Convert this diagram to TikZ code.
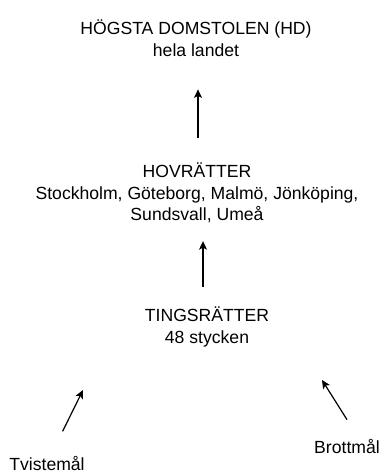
\documentclass[tikz,border=0pt]{standalone}
\usepackage{fontspec}
\setmainfont{Liberation Sans}
\usetikzlibrary{positioning, arrows.meta}
\newcommand{\TextSize}{\fontsize{17.6}{21.5}\selectfont}

\begin{document}
\begin{tikzpicture}[x=1pt, y=-1pt,
  level/.style={font=\TextSize, align=center, inner sep=0pt},
  pil/.style={line width=1.2pt, -{Stealth[length=8.5pt, width=8pt, inset=2pt]}}]
\useasboundingbox (0,0) rectangle (384,473);
% the three courts
\node[level] (hd) at (196,38) {HÖGSTA DOMSTOLEN (HD)\\hela landet};
\node[level] (hovr) at (197,193) {HOVRÄTTER\\Stockholm, Göteborg, Malmö, Jönköping,\\Sundsvall, Umeå};
\node[level] (tingsr) at (207,327) {TINGSRÄTTER\\48 stycken};
% the two kinds of cases
\node[level] (tvist) at (47,463) {Tvistemål};
\node[level] (brott) at (347,446) {Brottmål};
% arrows upwards
\draw[pil, shorten <=25pt, shorten >=33pt] ([xshift=1pt]hovr.north) -- ([xshift=2pt]hd.south);
\draw[pil, shorten <=20pt, shorten >=18pt] ([xshift=-4pt]tingsr.north) -- ([xshift=6pt]hovr.south);
\coordinate (tvpil) at (83,390);
\coordinate (brpil) at (322,380);
\draw[pil, shorten <=27pt] (tvist) -- (tvpil);
\draw[pil] ([yshift=19pt]brott.north) -- (brpil);
\end{tikzpicture}
\end{document}
